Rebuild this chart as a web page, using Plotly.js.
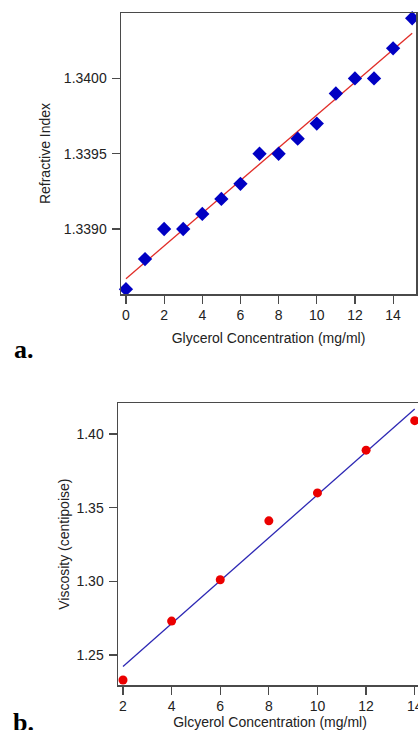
<!DOCTYPE html>
<html>
<head>
<meta charset="utf-8">
<script src="https://cdn.plot.ly/plotly-3.0.1.min.js"></script>
<style>
  html, body { margin: 0; padding: 0; overflow: hidden; background: #fff; }
  #chart { width: 430px; height: 730px; }
</style>
</head>
<body>
<div id="chart"></div>
<script>
// Panel a: refractive index vs glycerol concentration
const conc_a = [0, 1, 2, 3, 4, 5, 6, 7, 8, 9, 10, 11, 12, 13, 14, 15];
const refIndex = [1.3386, 1.3388, 1.3390, 1.3390, 1.3391, 1.3392, 1.3393, 1.3395,
                  1.3395, 1.3396, 1.3397, 1.3399, 1.3400, 1.3400, 1.3402, 1.3404];
const fit_a_x = [0, 15];
const fit_a_y = [1.33867, 1.34030];
const ticks_a_y = [1.3390, 1.3395, 1.3400];

// Panel b: viscosity vs glycerol concentration
const conc_b = [2, 4, 6, 8, 10, 12, 14];
const viscosity = [1.233, 1.273, 1.301, 1.341, 1.360, 1.389, 1.409];
const fit_b_x = [2, 14];
const fit_b_y = [1.2421, 1.4170];
const ticks_b_y = [1.25, 1.30, 1.35, 1.40];

const W = 430, H = 730;
const px = v => v / W;
const py = v => 1 - v / H;

const fontFam = 'Liberation Sans, Arial, Helvetica, sans-serif';
const frameColor = '#4a4a4a';

const traces = [
  { x: fit_a_x, y: fit_a_y, mode: 'lines', xaxis: 'x', yaxis: 'y',
    line: { color: 'rgb(225,45,40)', width: 1.3 }, hoverinfo: 'skip' },
  { x: conc_a, y: refIndex, mode: 'markers', xaxis: 'x', yaxis: 'y',
    marker: { symbol: 'diamond', size: 11, color: 'rgb(0,0,195)' }, cliponaxis: false },
  { x: fit_b_x, y: fit_b_y, mode: 'lines', xaxis: 'x2', yaxis: 'y2',
    line: { color: 'rgb(45,40,180)', width: 1.3 }, hoverinfo: 'skip' },
  { x: conc_b, y: viscosity, mode: 'markers', xaxis: 'x2', yaxis: 'y2',
    marker: { symbol: 'circle', size: 9, color: 'rgb(235,0,0)' }, cliponaxis: false }
];

const axCommon = {
  showgrid: false, zeroline: false, showline: true, mirror: true,
  linecolor: frameColor, linewidth: 1.5,
  ticks: 'outside', ticklen: 8, tickwidth: 1.2, tickcolor: frameColor,
  tickfont: { family: fontFam, size: 14, color: '#222' },
  fixedrange: true
};

const layout = {
  width: W, height: H,
  margin: { l: 0, r: 0, t: 0, b: 0 },
  paper_bgcolor: '#fff', plot_bgcolor: '#fff',
  showlegend: false,
  font: { family: fontFam, color: '#222' },
  xaxis: Object.assign({}, axCommon, {
    domain: [px(121), px(416)], anchor: 'y',
    range: [-0.26, 15.2], tickmode: 'linear', tick0: 0, dtick: 2,
    title: { text: 'Glycerol Concentration (mg/ml)', font: { family: fontFam, size: 14, color: '#222' }, standoff: 11 }
  }),
  yaxis: Object.assign({}, axCommon, {
    domain: [py(294), py(13)], anchor: 'x',
    range: [1.338568, 1.340435], tickmode: 'array', tickvals: ticks_a_y,
    ticktext: ticks_a_y.map(v => v.toFixed(4)), ticklabelstandoff: 2,
    title: { text: 'Refractive Index', font: { family: fontFam, size: 14, color: '#222' }, standoff: 10 }
  }),
  xaxis2: Object.assign({}, axCommon, {
    domain: [px(118), px(422)], anchor: 'y2',
    range: [1.794, 14.3], tickmode: 'linear', tick0: 2, dtick: 2,
    title: { text: 'Glcyerol Concentration (mg/ml)', font: { family: fontFam, size: 14, color: '#222' }, standoff: 2 }
  }),
  yaxis2: Object.assign({}, axCommon, {
    domain: [py(685), py(403.3)], anchor: 'x2',
    range: [1.2296, 1.4208], tickmode: 'array', tickvals: ticks_b_y,
    ticktext: ticks_b_y.map(v => v.toFixed(2)), ticklabelstandoff: 2,
    title: { text: 'Viscosity (centipoise)', font: { family: fontFam, size: 14, color: '#222' }, standoff: 3 }
  }),
  annotations: [
    { text: '<b>a.</b>', xref: 'paper', yref: 'paper', x: px(12), y: py(350),
      xanchor: 'left', yanchor: 'middle', showarrow: false,
      font: { family: 'Liberation Serif, Times New Roman, serif', size: 26, color: '#000' } },
    { text: '<b>b.</b>', xref: 'paper', yref: 'paper', x: px(11), y: py(722),
      xanchor: 'left', yanchor: 'middle', showarrow: false,
      font: { family: 'Liberation Serif, Times New Roman, serif', size: 26, color: '#000' } }
  ]
};

Plotly.newPlot('chart', traces, layout, { displayModeBar: false, staticPlot: true });
</script>
</body>
</html>
